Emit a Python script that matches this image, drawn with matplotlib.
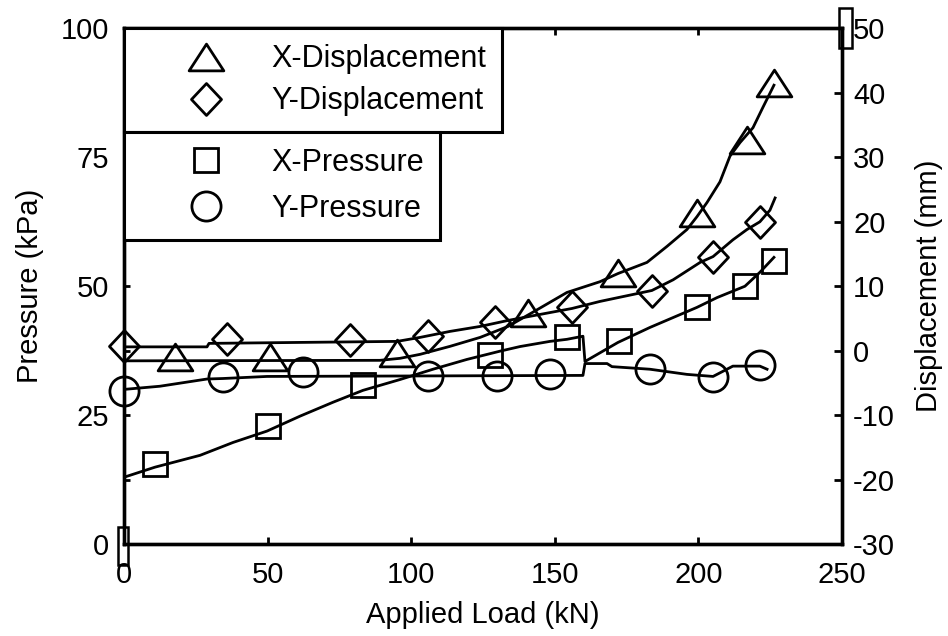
import matplotlib
matplotlib.use('Agg')
import matplotlib.pyplot as plt
import numpy as np
from matplotlib.patches import Rectangle
from matplotlib.path import Path

plt.rcParams['font.family'] = ['Liberation Sans', 'DejaVu Sans']

# measured curves (load in kN)
xdisp_line_load = [0, 89.1, 96.1, 103.1, 113.5, 124.0, 133.7, 141.4, 154.2, 165.7, 172.0, 182.1,
                   189.1, 196.0, 199.5, 203.0, 207.5, 211.0, 214.5, 219.0, 222.5, 226.3]
xdisp_line_mm = [-1.58, -1.50, -1.19, -0.57, 0.67, 2.06, 3.76, 5.72, 9.03, 10.7, 11.97, 13.7,
                 16.2, 18.8, 20.8, 23.0, 26.2, 30.2, 32.3, 34.6, 37.8, 41.2]
ydisp_line_load = [0, 28.9, 29.6, 95.1, 103.1, 113.5, 124.0, 133.7, 144.8, 156.0, 165.7, 177.2,
                   183.8, 191.2, 200.6, 205.1, 212.0, 216.9, 221.4, 224.9, 226.7]
ydisp_line_mm = [0.59, 0.59, 1.13, 1.44, 2.06, 2.99, 3.76, 4.69, 5.62, 6.55, 7.64, 8.72,
                 9.34, 11.0, 13.7, 14.6, 17.2, 18.8, 20.0, 21.8, 23.7]
xpres_line_load = [0.3, 10.8, 26.5, 38.0, 49.8, 61.3, 72.8, 83.2, 96.1, 107.6, 119.4, 130.9,
                   137.9, 148.3, 154.2, 159.8, 160.5, 172.0, 183.1, 199.5, 206.5, 216.2, 221.4, 226.3]
xpres_line_kpa = [13.0, 14.9, 17.2, 19.7, 21.9, 24.8, 27.5, 29.8, 31.9, 33.9, 35.8, 37.4,
                  38.3, 39.3, 39.7, 40.3, 35.4, 39.1, 42.0, 45.9, 47.8, 50.0, 52.7, 55.6]
ypres_line_load = [0.3, 12.5, 28.9, 34.5, 49.8, 159.8, 160.5, 168.2, 169.9, 183.1, 196.0,
                   205.1, 212.0, 221.4, 223.9]
ypres_line_kpa = [30.0, 30.6, 32.0, 32.1, 32.5, 32.7, 35.0, 35.0, 34.4, 33.9, 32.9,
                  32.5, 34.5, 34.5, 33.9]

# marker points
xdisp_mark_load = [17.8, 50.8, 95.1, 140.7, 172.0, 199.5, 216.9, 226.3]
xdisp_mark_mm = [-1.04, -1.04, -0.42, 5.78, 12.1, 21.3, 32.7, 41.6]
ydisp_mark_load = [0, 35.9, 78.7, 105.8, 129.2, 156.0, 183.8, 205.1, 221.4]
ydisp_mark_mm = [0.67, 1.75, 1.60, 2.21, 4.38, 6.7, 9.2, 14.6, 20.0]
xpres_mark_load = [10.8, 50.1, 83.2, 127.4, 154.2, 172.4, 199.5, 216.2, 226.3]
xpres_mark_kpa = [15.5, 22.8, 30.8, 36.6, 40.1, 39.3, 45.9, 50.0, 54.8]
ypres_mark_load = [0, 34.5, 62.3, 105.8, 129.9, 148.3, 183.1, 205.1, 221.4]
ypres_mark_kpa = [29.6, 32.3, 33.3, 32.5, 32.5, 32.9, 33.9, 32.3, 34.7]

x_ticks = [0, 50, 100, 150, 200, 250]
p_ticks = np.arange(0, 101, 12.5)
d_ticks = np.arange(-30, 51, 10)

fs = 21
lw = 2.0
tri_v = [(-1, -0.77), (1, -0.77), (0, 0.77)]
dia_v = [(0, 1), (0.94, 0), (0, -1), (-0.94, 0)]
tri = Path(tri_v + [tri_v[0]], closed=True)
dia = Path(dia_v + [dia_v[0]], closed=True)

fig = plt.figure(figsize=(9.48, 6.36), dpi=100)
ax = fig.add_axes([0.1308, 0.1447, 0.7574, 0.8105])
ax2 = ax.twinx()

ax.plot(xpres_line_load, xpres_line_kpa, 'k-', lw=lw)
ax.plot(ypres_line_load, ypres_line_kpa, 'k-', lw=lw)
h_sq, = ax.plot(xpres_mark_load, xpres_mark_kpa, ls='none', marker='s', ms=17, mfc='none',
                mec='k', mew=lw, clip_on=False, label='X-Pressure')
h_ci, = ax.plot(ypres_mark_load, ypres_mark_kpa, ls='none', marker='o', ms=21, mfc='none',
                mec='k', mew=lw, clip_on=False, label='Y-Pressure')

ax2.plot(xdisp_line_load, xdisp_line_mm, 'k-', lw=lw)
ax2.plot(ydisp_line_load, ydisp_line_mm, 'k-', lw=lw)
h_tr, = ax2.plot(xdisp_mark_load, xdisp_mark_mm, ls='none', marker=tri, ms=25, mfc='none',
                 mec='k', mew=lw, clip_on=False, label='X-Displacement')
h_di, = ax2.plot(ydisp_mark_load, ydisp_mark_mm, ls='none', marker=dia, ms=23, mfc='none',
                 mec='k', mew=lw, clip_on=False, label='Y-Displacement')

ax.set_xlim(0, 250)
ax.set_ylim(0, 100)
ax2.set_ylim(-30, 50)
ax.set_xticks(x_ticks)
ax.set_xticklabels([str(t) for t in x_ticks])
ax.set_yticks(p_ticks)
ax.set_yticklabels([('%g' % t) if t % 25 == 0 else '' for t in p_ticks])
ax2.set_yticks(d_ticks)
ax2.set_yticklabels([str(int(t)) for t in d_ticks])

ax.tick_params(axis='x', direction='in', top=True, length=5, width=2, labelsize=fs, pad=12)
ax.tick_params(axis='y', direction='in', length=4, width=2, labelsize=fs, pad=11)
ax2.tick_params(axis='y', direction='in', length=6, width=2, labelsize=fs, pad=8)
for a in (ax, ax2):
    for s in a.spines.values():
        s.set_linewidth(2.4)

ax.set_xlabel('Applied Load (kN)', fontsize=fs, labelpad=9)
ax.set_ylabel('Pressure (kPa)', fontsize=fs, labelpad=12)
ax2.set_ylabel('Displacement (mm)', fontsize=fs, labelpad=14)

leg_kw = dict(fontsize=22, frameon=True, fancybox=False, edgecolor='k', framealpha=1,
              borderaxespad=0, borderpad=0.52, handlelength=4.3, handletextpad=0.0)
leg1 = ax2.legend(handles=[h_tr, h_di], loc='upper left', bbox_to_anchor=(0, 1),
                  labelspacing=0.39, **leg_kw)
leg1.get_frame().set_linewidth(2.2)
ax2.add_artist(leg1)
fig.canvas.draw()
bb = leg1.get_window_extent().transformed(ax2.transAxes.inverted())
leg2 = ax2.legend(handles=[h_sq, h_ci], loc='upper left', bbox_to_anchor=(0, bb.y0),
                  labelspacing=0.52, **leg_kw)
leg2.get_frame().set_linewidth(2.2)

# stray outline boxes at the axes corners seen in the original export
for x0, y0, w, h in [(0.9958, 0.962, 0.0181, 0.0776), (-0.0084, -0.0407, 0.0139, 0.0737)]:
    ax2.add_patch(Rectangle((x0, y0), w, h, transform=ax2.transAxes, fill=False,
                            ec='k', lw=1.8, clip_on=False))

fig.savefig('out.png', dpi=100)
